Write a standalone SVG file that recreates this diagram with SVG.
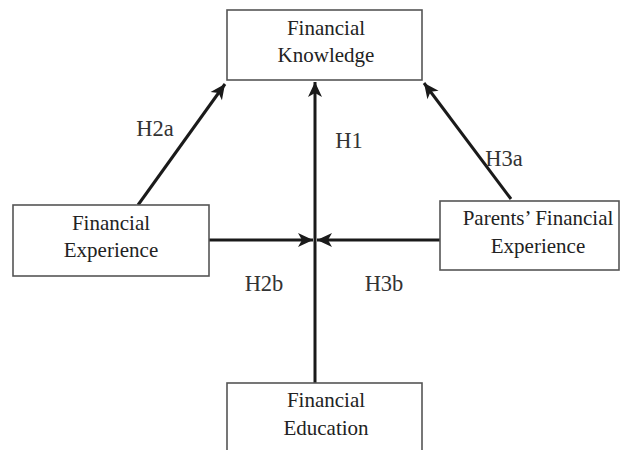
<svg xmlns="http://www.w3.org/2000/svg" width="623" height="450" viewBox="0 0 623 450">
<style>
.box{fill:#fff;stroke:#555;stroke-width:1.6}
.nt{font-family:"Liberation Serif","Times New Roman",serif;font-size:21px;fill:#222;text-anchor:middle}
.lb{font-family:"Liberation Serif","Times New Roman",serif;font-size:22.5px;fill:#333;text-anchor:middle}
.ln{stroke:#1a1a1a;stroke-width:3;fill:none}
</style>
<defs>
<marker id="ah" markerUnits="userSpaceOnUse" markerWidth="18" markerHeight="16" viewBox="0 0 18 16" refX="16" refY="8" orient="auto">
<path d="M1,1 L16,8 L1,15 L5,8 Z" fill="#1a1a1a"/>
</marker>
</defs>
<rect width="623" height="450" fill="#fff"/>
<g id="connectors">
<line class="ln" x1="315" y1="383" x2="315" y2="82" marker-end="url(#ah)"/>
<line class="ln" x1="138" y1="205" x2="225" y2="84" marker-end="url(#ah)"/>
<line class="ln" x1="511" y1="199" x2="424" y2="83" marker-end="url(#ah)"/>
<line class="ln" x1="209" y1="240" x2="313" y2="240" marker-end="url(#ah)"/>
<line class="ln" x1="440" y1="240" x2="317" y2="240" marker-end="url(#ah)"/>
<text class="lb" x="155" y="136">H2a</text>
<text class="lb" x="349" y="148">H1</text>
<text class="lb" x="504" y="166">H3a</text>
<text class="lb" x="264" y="291">H2b</text>
<text class="lb" x="384" y="291">H3b</text>
</g>
<g id="financial-knowledge">
<rect class="box" x="227" y="10" width="195" height="70"/>
<text class="nt" x="326" y="35">Financial</text>
<text class="nt" x="326" y="62">Knowledge</text>
</g>
<g id="financial-experience">
<rect class="box" x="13" y="205" width="196" height="71"/>
<text class="nt" x="111" y="230">Financial</text>
<text class="nt" x="111" y="257">Experience</text>
</g>
<g id="parents-financial-experience">
<rect class="box" x="440" y="201" width="179" height="69"/>
<text class="nt" x="538" y="225">Parents’ Financial</text>
<text class="nt" x="538" y="253">Experience</text>
</g>
<g id="financial-education">
<rect class="box" x="227" y="383" width="195" height="80"/>
<text class="nt" x="326" y="407">Financial</text>
<text class="nt" x="326" y="435">Education</text>
</g>
</svg>
